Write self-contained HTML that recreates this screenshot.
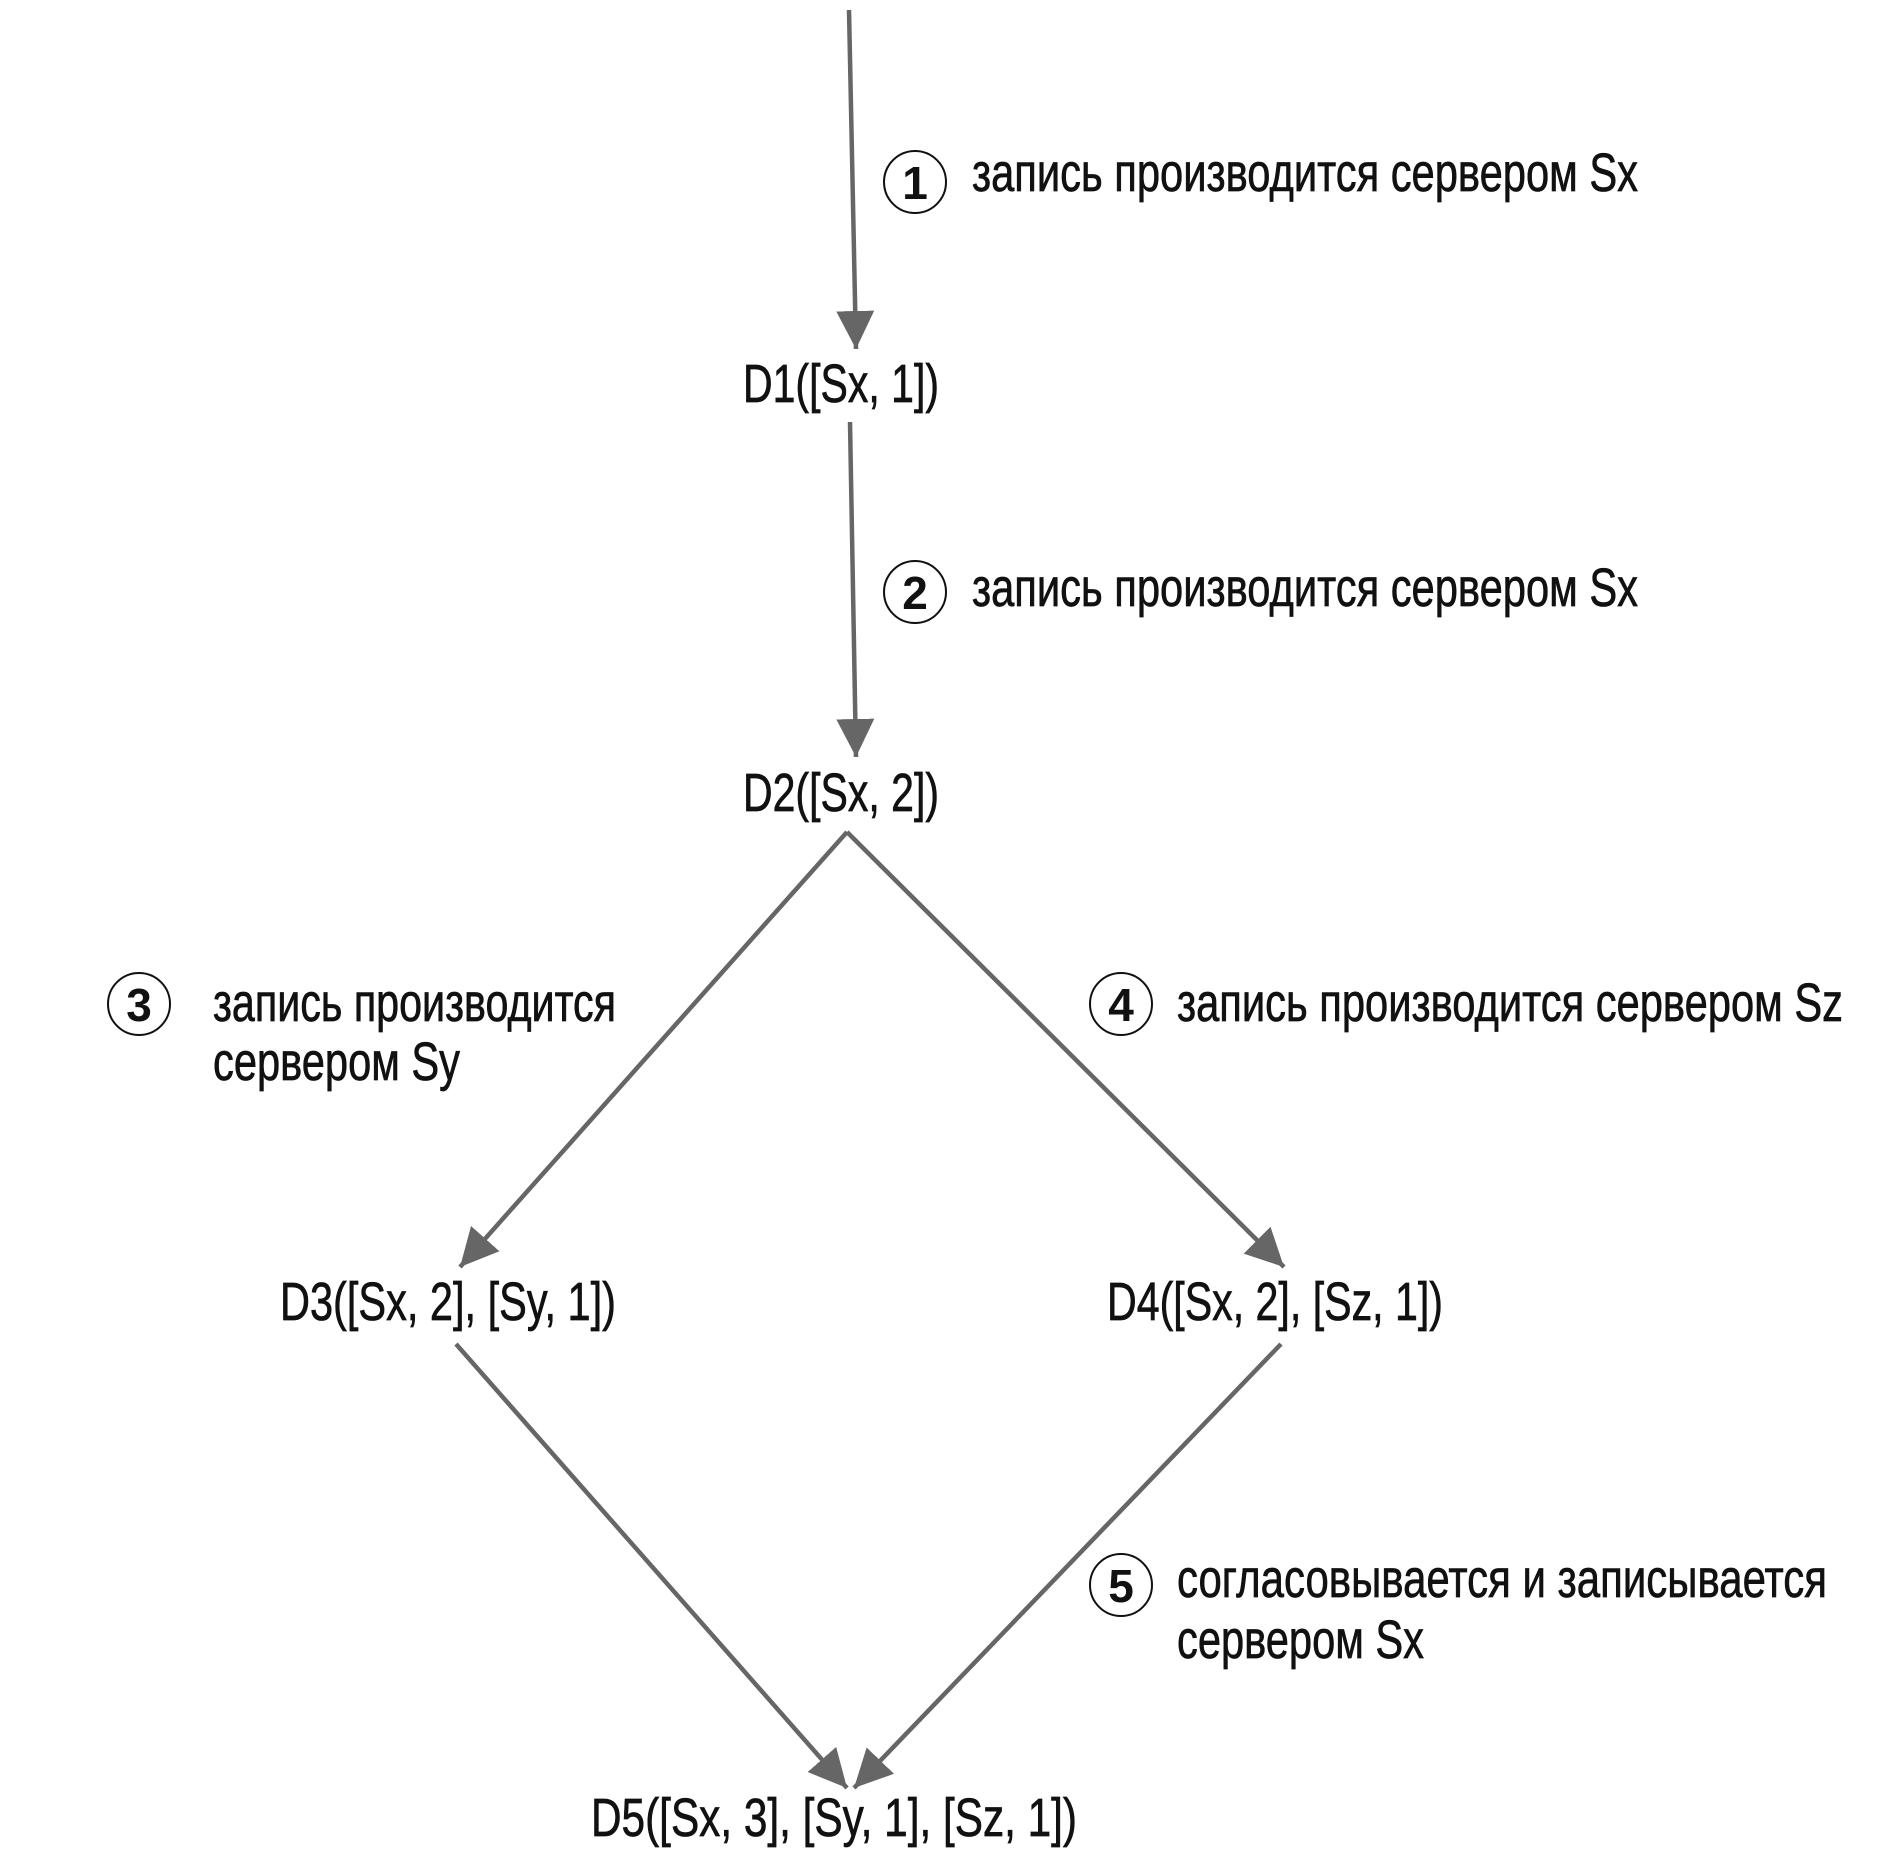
<!DOCTYPE html>
<html><head><meta charset="utf-8"><style>
html,body{margin:0;padding:0;background:#fff;}
svg{display:block;}
text{font-family:"Liberation Sans",sans-serif;fill:#111;}
.t{font-size:54px;stroke:#111;stroke-width:0.7px;}
.n{font-size:46px;font-weight:bold;}
</style></head><body>
<svg width="1904" height="1868" viewBox="0 0 1904 1868" xmlns="http://www.w3.org/2000/svg">
<defs>
<marker id="a" markerUnits="userSpaceOnUse" markerWidth="44" markerHeight="44" refX="38" refY="19" orient="auto">
<path d="M0,0 L38,19 L0,38 z" fill="#666"/>
</marker>
</defs>
<g transform="translate(-4,-4)">
<g stroke="#666" stroke-width="4.5" fill="none">
<line x1="853" y1="14" x2="860" y2="353" marker-end="url(#a)"/>
<line x1="854" y1="426" x2="860" y2="761" marker-end="url(#a)"/>
<line x1="851" y1="836" x2="464" y2="1271" marker-end="url(#a)"/>
<line x1="851" y1="836" x2="1288" y2="1271" marker-end="url(#a)"/>
<line x1="460" y1="1348" x2="851" y2="1792" marker-end="url(#a)"/>
<line x1="1285" y1="1348" x2="858" y2="1792" marker-end="url(#a)"/>
</g>
<g stroke="#111" stroke-width="2" fill="#fff">
<circle cx="919" cy="186" r="31"/>
<circle cx="919" cy="596" r="31"/>
<circle cx="143" cy="1008" r="31"/>
<circle cx="1125" cy="1008" r="31"/>
<circle cx="1125" cy="1589" r="31"/>
</g>
<g class="n" text-anchor="middle">
<text x="919" y="203" class="n">1</text>
<text x="919" y="613" class="n">2</text>
<text x="143" y="1025" class="n">3</text>
<text x="1125" y="1025" class="n">4</text>
<text x="1125" y="1606" class="n">5</text>
</g>
<g class="t">
<text x="976" y="195" textLength="666" lengthAdjust="spacingAndGlyphs">запись производится сервером Sx</text>
<text x="976" y="610" textLength="666" lengthAdjust="spacingAndGlyphs">запись производится сервером Sx</text>
<text x="217" y="1025" textLength="403" lengthAdjust="spacingAndGlyphs">запись производится</text>
<text x="217" y="1084" textLength="247" lengthAdjust="spacingAndGlyphs">сервером Sy</text>
<text x="1181" y="1025" textLength="666" lengthAdjust="spacingAndGlyphs">запись производится сервером Sz</text>
<text x="1181" y="1601" textLength="650" lengthAdjust="spacingAndGlyphs">согласовывается и записывается</text>
<text x="1181" y="1662" textLength="247" lengthAdjust="spacingAndGlyphs">сервером Sx</text>
<text x="747" y="406" textLength="196" lengthAdjust="spacingAndGlyphs">D1([Sx, 1])</text>
<text x="747" y="815" textLength="196" lengthAdjust="spacingAndGlyphs">D2([Sx, 2])</text>
<text x="284" y="1324" textLength="336" lengthAdjust="spacingAndGlyphs">D3([Sx, 2], [Sy, 1])</text>
<text x="1111" y="1324" textLength="336" lengthAdjust="spacingAndGlyphs">D4([Sx, 2], [Sz, 1])</text>
<text x="595" y="1840" textLength="486" lengthAdjust="spacingAndGlyphs">D5([Sx, 3], [Sy, 1],  [Sz, 1])</text>
</g>
</g>
</svg>
</body></html>
